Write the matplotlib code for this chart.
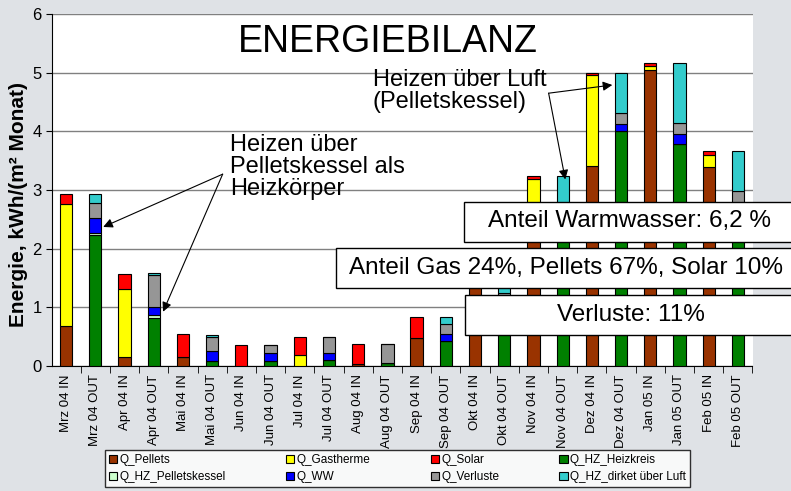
import matplotlib
matplotlib.use("Agg")
import matplotlib.pyplot as plt
from matplotlib.patches import Patch, Rectangle
import numpy as np

plt.rcParams['font.family'] = ['Liberation Sans', 'DejaVu Sans']

# x categories (IN = supplied energy, OUT = used energy, alternating)
categories = ['Mrz 04 IN', 'Mrz 04 OUT', 'Apr 04 IN', 'Apr 04 OUT', 'Mai 04 IN', 'Mai 04 OUT',
              'Jun 04 IN', 'Jun 04 OUT', 'Jul 04 IN', 'Jul 04 OUT', 'Aug 04 IN', 'Aug 04 OUT',
              'Sep 04 IN', 'Sep 04 OUT', 'Okt 04 IN', 'Okt 04 OUT', 'Nov 04 IN', 'Nov 04 OUT',
              'Dez 04 IN', 'Dez 04 OUT', 'Jan 05 IN', 'Jan 05 OUT', 'Feb 05 IN', 'Feb 05 OUT']

# IN bars (Mrz 04 .. Feb 05)
q_pellets = [0.69, 0.15, 0.16, 0.00, 0.00, 0.04, 0.48, 1.60, 2.50, 3.41, 5.05, 3.40]
q_gastherme = [2.07, 1.16, 0.00, 0.00, 0.18, 0.00, 0.00, 0.00, 0.68, 1.55, 0.06, 0.19]
q_solar = [0.18, 0.26, 0.38, 0.36, 0.31, 0.34, 0.35, 0.10, 0.06, 0.04, 0.05, 0.07]

# OUT bars (Mrz 04 .. Feb 05)
q_hz_heizkreis = [2.23, 0.82, 0.08, 0.08, 0.11, 0.05, 0.43, 1.05, 2.40, 4.01, 3.79, 2.60]
q_hz_pelletskessel = [0.03, 0.05, 0.01, 0.00, 0.00, 0.00, 0.00, 0.00, 0.00, 0.00, 0.00, 0.00]
q_ww = [0.26, 0.13, 0.16, 0.15, 0.11, 0.00, 0.11, 0.08, 0.05, 0.11, 0.16, 0.10]
q_verluste = [0.26, 0.55, 0.25, 0.13, 0.27, 0.33, 0.18, 0.12, 0.10, 0.20, 0.20, 0.28]
q_luft = [0.15, 0.03, 0.03, 0.00, 0.00, 0.00, 0.11, 0.30, 0.69, 0.68, 1.01, 0.68]

in_series = [('Q_Pellets', q_pellets, '#993300'),
             ('Q_Gastherme', q_gastherme, '#ffff00'),
             ('Q_Solar', q_solar, '#ff0000')]
out_series = [('Q_HZ_Heizkreis', q_hz_heizkreis, '#008000'),
              ('Q_HZ_Pelletskessel', q_hz_pelletskessel, '#ccffcc'),
              ('Q_WW', q_ww, '#0000ff'),
              ('Q_Verluste', q_verluste, '#969696'),
              ('Q_HZ_dirket über Luft', q_luft, '#33cccc')]

W, H = 791, 491
fig = plt.figure(figsize=(W / 100, H / 100), dpi=100, facecolor='#dfe2e6')
ax = fig.add_axes([51.5 / W, 1 - 366 / H, 701 / W, 352 / H])
ax.set_facecolor('white')

x_in = np.arange(0, len(categories), 2)
x_out = x_in + 1
bw = 0.42

handles = {}
bottom = np.zeros(len(x_in))
for name, vals, col in in_series:
    ax.bar(x_in, vals, bw, bottom=bottom, color=col, edgecolor='black', linewidth=0.8, zorder=3)
    bottom += np.array(vals)
    handles[name] = Patch(facecolor=col, edgecolor='black', linewidth=0.8)
bottom = np.zeros(len(x_out))
for name, vals, col in out_series:
    ax.bar(x_out, vals, bw, bottom=bottom, color=col, edgecolor='black', linewidth=0.8, zorder=3)
    bottom += np.array(vals)
    handles[name] = Patch(facecolor=col, edgecolor='black', linewidth=0.8)

ax.set_xlim(-0.5, len(categories) - 0.5)
ax.set_ylim(0, 6)
ax.set_yticks(range(7))
ax.yaxis.grid(True, color='#808080', linewidth=1.0, zorder=0)
ax.set_axisbelow(True)
ax.set_xticks(np.arange(len(categories)))
ax.set_xticklabels(categories, rotation=90, fontsize=9.5)
ax.set_xticks(np.arange(len(categories)) + 0.5, minor=True)
ax.tick_params(axis='x', which='major', length=0, pad=6)
ax.tick_params(axis='x', which='minor', length=5, color='black')
ax.tick_params(axis='y', labelsize=12, length=4, pad=3)
for s in ['top', 'right']:
    ax.spines[s].set_visible(False)
ax.set_ylabel('Energie, kWh/(m² Monat)', fontsize=15, fontweight='bold')
ax.yaxis.set_label_coords(-0.033, 0.46)

ax.text(11.0, 5.52, 'ENERGIEBILANZ', fontsize=27, ha='center', va='center', zorder=5)

arrow = dict(arrowstyle='-|>', color='black', lw=0.8, mutation_scale=14, shrinkA=0, shrinkB=0)
ax.text(10.5, 5.06, 'Heizen über Luft\n(Pelletskessel)', fontsize=17, ha='left', va='top',
        linespacing=1.0, zorder=5)
ax.annotate('', xy=(18.7, 4.79), xytext=(16.52, 4.65), arrowprops=arrow, zorder=6)
ax.annotate('', xy=(17.09, 3.18), xytext=(16.52, 4.65), arrowprops=arrow, zorder=6)

ax.text(5.6, 3.95, 'Heizen über\nPelletskessel als\nHeizkörper', fontsize=17, ha='left', va='top',
        linespacing=1.0, zorder=5)
ax.annotate('', xy=(1.27, 2.37), xytext=(5.36, 3.27), arrowprops=arrow, zorder=6)
ax.annotate('', xy=(3.32, 0.925), xytext=(5.36, 3.27), arrowprops=arrow, zorder=6)

# info boxes (pixel extents: left, top, bottom)
boxes = [('Anteil Warmwasser: 6,2 %', 464, 201.5, 241.5),
         ('Anteil Gas 24%, Pellets 67%, Solar 10%', 336, 248, 287.5),
         ('Verluste: 11%', 465, 295, 335)]
for txt, x0, y0, y1 in boxes:
    fig.add_artist(Rectangle((x0 / W, 1 - y1 / H), (800 - x0) / W, (y1 - y0) / H,
                             transform=fig.transFigure, facecolor='white', edgecolor='black',
                             linewidth=1.0, zorder=10))
    fig.text((x0 + 790) / 2 / W + 3 / W, 1 - (y0 + y1) / 2 / H, txt, fontsize=17.5, ha='center',
             va='center', zorder=11)

order = ['Q_Pellets', 'Q_HZ_Pelletskessel', 'Q_Gastherme', 'Q_WW',
         'Q_Solar', 'Q_Verluste', 'Q_HZ_Heizkreis', 'Q_HZ_dirket über Luft']
leg = fig.legend([handles[k] for k in order], order, ncol=4, loc='lower left',
                 bbox_to_anchor=(105 / W, 1 - 487 / H, 585 / W, 38 / H), mode='expand',
                 fontsize=8.5, frameon=True, fancybox=False, edgecolor='black',
                 handlelength=0.7, handleheight=0.7, handletextpad=0.2, borderaxespad=0,
                 labelspacing=0.4, borderpad=0.35)
leg.get_frame().set_linewidth(1.0)

fig.savefig('out.png', dpi=100, facecolor=fig.get_facecolor())
